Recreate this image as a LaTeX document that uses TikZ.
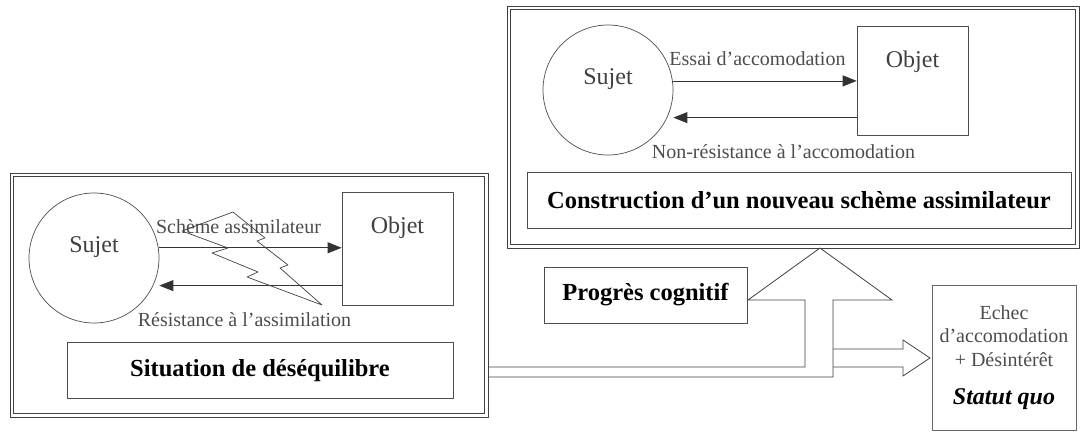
\documentclass[tikz,border=0pt]{standalone}
\usepackage{fontspec}
\setmainfont{Liberation Serif}
\usetikzlibrary{arrows.meta}
\newcommand{\fsz}[1]{\fontsize{#1}{#1}\selectfont}
\newcommand{\cadreint}[1]{\draw[black!75, line width=.8pt] ([shift={(4,4)}]#1.north west) rectangle ([shift={(-4,-4)}]#1.south east);}
\tikzset{
  cadre/.style={draw=black!75, line width=.8pt, inner sep=0pt},
  sujet/.style={circle, draw=black!70, line width=.7pt, minimum size=130pt, inner sep=0pt},
  objet/.style={draw=black!70, line width=.7pt, minimum width=111pt, inner sep=0pt},
  titre/.style={draw=black!70, line width=.7pt, font=\fsz{24.5}\bfseries, minimum height=56pt, inner sep=0pt},
  nom/.style={font=\fsz{24}, text=black!75, inner sep=0pt},
  lbl/.style={font=\fsz{20}, text=black!70, inner sep=0pt},
  fl/.style={-{Triangle[length=14pt,width=11pt]}, draw=black!80, line width=.8pt},
  bloc/.style={draw=black!75, line width=.8pt, line join=miter}
}
\begin{document}
\begin{tikzpicture}[x=1pt, y=-1pt, line join=round]
\useasboundingbox (0,0) rectangle (1080,433);
% situation de desequilibre
\node[cadre, minimum width=478pt, minimum height=244pt] (cadreA) at (249,295) {};
\cadreint{cadreA}
\node[sujet, label={[nom, yshift=11pt]center:Sujet}] (sujetA) at (94,258) {};
\node[objet, minimum height=113pt, label={[nom, yshift=20.5pt]center:Objet}] (objetA) at (397.5,248.5) {};
\draw[fl] (sujetA.9) -- (objetA.west |- sujetA.9);
\draw[fl] (objetA.west |- sujetA.-25) -- (sujetA.east |- sujetA.-25);
\node[lbl] (schemeA) at (238.5,227) {Schème assimilateur};
\node[lbl] (resistA) at (244.5,320) {Résistance à l'assimilation};
\draw[black!75, line width=.7pt] (182,231) -- (233,212) -- (265,238) -- (257,241) -- (288,265) -- (280,268)
  -- (322,305) -- (247,277) -- (258,272) -- (212,253) -- (228,248) -- cycle;
\node[titre, minimum width=386pt] (situation) at (260,370.5) {Situation de déséquilibre};
% nouveau scheme
\node[cadre, minimum width=572pt, minimum height=242pt] (cadreB) at (793,127) {};
\cadreint{cadreB}
\node[sujet, label={[nom, yshift=11pt]center:Sujet}] (sujetB) at (608,90) {};
\node[objet, minimum height=109pt, label={[nom, yshift=18.5pt]center:Objet}] (objetB) at (912.5,80.5) {};
\draw[fl] (sujetB.8) -- (objetB.west |- sujetB.8);
\draw[fl] (objetB.west |- sujetB.-25) -- (sujetB.east |- sujetB.-25);
\node[lbl] (essai) at (757.5,59) {Essai d'accomodation};
\node[lbl] (nonresist) at (783.5,152) {Non-résistance à l'accomodation};
\node[titre, minimum width=544pt] (construction) at (799,200) {Construction d'un nouveau schème assimilateur};
% issues
\node[titre, minimum width=203pt] (progres) at (645.5,295) {Progrès cognitif};
\node[draw=black!60, line width=.7pt, minimum width=144pt, minimum height=145pt, inner sep=0pt,
  align=center, font=\fontsize{20}{23.5}\selectfont, text=black!70] (statut) at (1004,357.5)
  {Echec\\d'accomodation\\+ Désintérêt\\[14.5pt]{\fsz{24}\bfseries\itshape\color{black}Statut quo}};
\draw[bloc] (488,367) -- (805,367) -- (805,300) -- (748,300) -- (820,248) -- (892,300)
  -- (833,300) -- (833,377) -- (488,377);
\draw[bloc] (833,349) -- (903,349) -- (903,340) -- (930,358) -- (903,376) -- (903,367) -- (833,367);
\end{tikzpicture}
\end{document}
